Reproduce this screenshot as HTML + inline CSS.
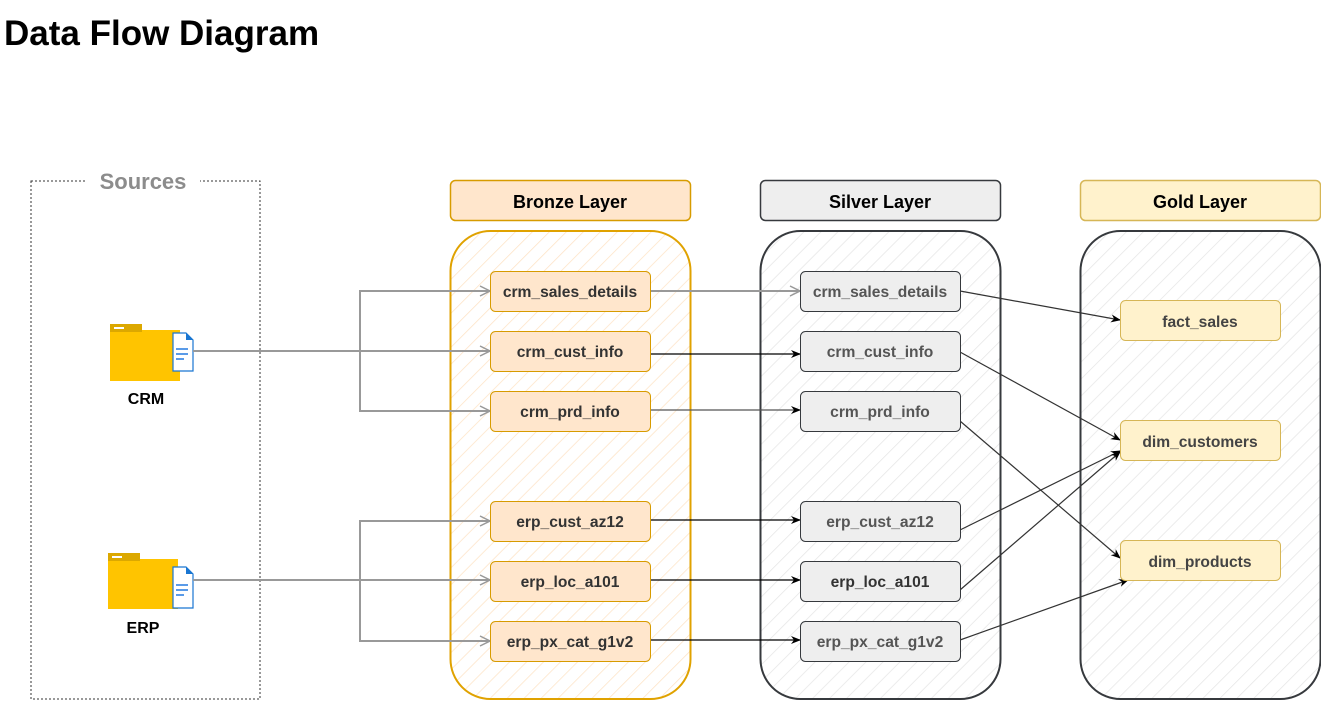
<!DOCTYPE html>
<html><head><meta charset="utf-8"><style>
body{margin:0;background:#fff;width:1321px;height:701px;overflow:hidden;font-family:"Liberation Sans",Arial,sans-serif}
</style></head><body>
<svg width="1321" height="701" xmlns="http://www.w3.org/2000/svg" font-family="Liberation Sans, Arial, sans-serif">
<defs>
<pattern id="hO" patternUnits="userSpaceOnUse" width="12" height="12" patternTransform="rotate(45)"><line x1="0" y1="0" x2="0" y2="12" stroke="#fde3c6" stroke-width="1.5"/></pattern>
<pattern id="hG" patternUnits="userSpaceOnUse" width="12" height="12" patternTransform="rotate(45)"><line x1="0" y1="0" x2="0" y2="12" stroke="#e6e6e6" stroke-width="1.5"/></pattern>
<marker id="ab" markerWidth="10" markerHeight="10" refX="9" refY="5" orient="auto" markerUnits="userSpaceOnUse"><path d="M0,1 L10,5 L0,9 L3,5 Z" fill="#000"/></marker>
<marker id="ag" markerWidth="12" markerHeight="12" refX="11" refY="6" orient="auto" markerUnits="userSpaceOnUse"><path d="M1,1 L11,6 L1,11" fill="none" stroke="#999" stroke-width="1.5"/></marker>
</defs>
<text x="4" y="45" font-size="35" font-weight="bold" fill="#000">Data Flow Diagram</text>

<rect x="31" y="181" width="229" height="518" fill="none" stroke="#333" stroke-dasharray="2,2"/>
<rect x="86" y="168" width="114" height="26" fill="#fff"/>
<text x="143" y="189" font-size="22" font-weight="bold" fill="#8c8c8c" text-anchor="middle">Sources</text>

<rect x="450.5" y="180.5" width="240" height="40" rx="5" fill="#ffe6cc" stroke="#d79b00" stroke-width="1.5"/>
<text x="570" y="208" font-size="18" font-weight="bold" text-anchor="middle">Bronze Layer</text>
<rect x="760.5" y="180.5" width="240" height="40" rx="5" fill="#eeeeee" stroke="#36393d" stroke-width="1.5"/>
<text x="880" y="208" font-size="18" font-weight="bold" text-anchor="middle">Silver Layer</text>
<rect x="1080.5" y="180.5" width="240" height="40" rx="5" fill="#fff2cc" stroke="#d6b656" stroke-width="1.5"/>
<text x="1200" y="208" font-size="18" font-weight="bold" text-anchor="middle">Gold Layer</text>

<rect x="450.5" y="231" width="240" height="468" rx="40" fill="url(#hO)" stroke="#e0a200" stroke-width="2"/>
<rect x="760.5" y="231" width="240" height="468" rx="40" fill="url(#hG)" stroke="#36393d" stroke-width="2"/>
<rect x="1080.5" y="231" width="240" height="468" rx="40" fill="url(#hG)" stroke="#36393d" stroke-width="2"/>

<g>
<path d="M110,324 h24 l8,6 h38 v51 h-70 z" fill="#ffc400"/><rect x="110" y="324" width="32" height="8" fill="#dca800"/><rect x="114" y="327" width="10" height="2" fill="#fff"/>
<path d="M173,333 h13 l7,7 v31 h-20 z" fill="#fff" stroke="#1976d2" stroke-width="1.2"/><path d="M186,333 v7 h7z" fill="#1976d2"/>
<rect x="176" y="348" width="12" height="2" fill="#5a9be8"/><rect x="176" y="353" width="12" height="2" fill="#5a9be8"/><rect x="176" y="358" width="8" height="2" fill="#5a9be8"/>
<text x="146" y="404" font-size="16" font-weight="bold" text-anchor="middle">CRM</text>
</g>
<g>
<path d="M108,553 h24 l8,6 h38 v50 h-70 z" fill="#ffc400"/><rect x="108" y="553" width="32" height="8" fill="#dca800"/><rect x="112" y="556" width="10" height="2" fill="#fff"/>
<path d="M173,567 h13 l7,7 v34 h-20 z" fill="#fff" stroke="#1976d2" stroke-width="1.2"/><path d="M186,567 v7 h7z" fill="#1976d2"/>
<rect x="176" y="584" width="12" height="2" fill="#5a9be8"/><rect x="176" y="589" width="12" height="2" fill="#5a9be8"/><rect x="176" y="594" width="8" height="2" fill="#5a9be8"/>
<text x="143" y="633" font-size="16" font-weight="bold" text-anchor="middle">ERP</text>
</g>

<g fill="none" stroke="#999" stroke-width="2">
<path d="M193,351 H490" marker-end="url(#ag)"/>
<path d="M360,351 V291 H490" marker-end="url(#ag)"/>
<path d="M360,351 V411 H490" marker-end="url(#ag)"/>
<path d="M193,580 H490" marker-end="url(#ag)"/>
<path d="M360,580 V521 H490" marker-end="url(#ag)"/>
<path d="M360,580 V641 H490" marker-end="url(#ag)"/>
<path d="M650,291 H800" marker-end="url(#ag)"/>
</g>
<g fill="none" stroke="#000" stroke-width="1.2">
<path d="M650,354 H800" marker-end="url(#ab)"/>
<path d="M650,410 H800" stroke="#555" marker-end="url(#ab)"/>
<path d="M650,520 H800" marker-end="url(#ab)"/>
<path d="M650,580 H800" marker-end="url(#ab)"/>
<path d="M650,640 H800" marker-end="url(#ab)"/>
</g>
<g fill="none" stroke="#333" stroke-width="1.2">
<path d="M960,291 L1120,320" marker-end="url(#ab)"/>
<path d="M960,352 L1120,440" marker-end="url(#ab)"/>
<path d="M960,421 L1120,558" marker-end="url(#ab)"/>
<path d="M960,530 L1120,451" marker-end="url(#ab)"/>
<path d="M960,590 L1120,452" marker-end="url(#ab)"/>
<path d="M960,640 L1128,580" marker-end="url(#ab)"/>
</g>

<g font-size="15.6" font-weight="bold" text-anchor="middle">
<g fill="#ffe6cc" stroke="#d79b00">
<rect x="490.5" y="271.5" width="160" height="40" rx="5"/><rect x="490.5" y="331.5" width="160" height="40" rx="5"/><rect x="490.5" y="391.5" width="160" height="40" rx="5"/>
<rect x="490.5" y="501.5" width="160" height="40" rx="5"/><rect x="490.5" y="561.5" width="160" height="40" rx="5"/><rect x="490.5" y="621.5" width="160" height="40" rx="5"/>
</g>
<g fill="#333">
<text x="570" y="297">crm_sales_details</text><text x="570" y="357">crm_cust_info</text><text x="570" y="417">crm_prd_info</text>
<text x="570" y="527">erp_cust_az12</text><text x="570" y="587">erp_loc_a101</text><text x="570" y="647">erp_px_cat_g1v2</text>
</g>
<g fill="#eeeeee" stroke="#36393d">
<rect x="800.5" y="271.5" width="160" height="40" rx="5"/><rect x="800.5" y="331.5" width="160" height="40" rx="5"/><rect x="800.5" y="391.5" width="160" height="40" rx="5"/>
<rect x="800.5" y="501.5" width="160" height="40" rx="5"/><rect x="800.5" y="561.5" width="160" height="40" rx="5"/><rect x="800.5" y="621.5" width="160" height="40" rx="5"/>
</g>
<g fill="#555">
<text x="880" y="297">crm_sales_details</text><text x="880" y="357">crm_cust_info</text><text x="880" y="417">crm_prd_info</text>
<text x="880" y="527">erp_cust_az12</text><text x="880" y="587" fill="#333">erp_loc_a101</text><text x="880" y="647">erp_px_cat_g1v2</text>
</g>
<g fill="#fff2cc" stroke="#d6b656">
<rect x="1120.5" y="300.5" width="160" height="40" rx="5"/><rect x="1120.5" y="420.5" width="160" height="40" rx="5"/><rect x="1120.5" y="540.5" width="160" height="40" rx="5"/>
</g>
<g fill="#444">
<text x="1200" y="327">fact_sales</text><text x="1200" y="447">dim_customers</text><text x="1200" y="567">dim_products</text>
</g>
</g>
</svg>
</body></html>
